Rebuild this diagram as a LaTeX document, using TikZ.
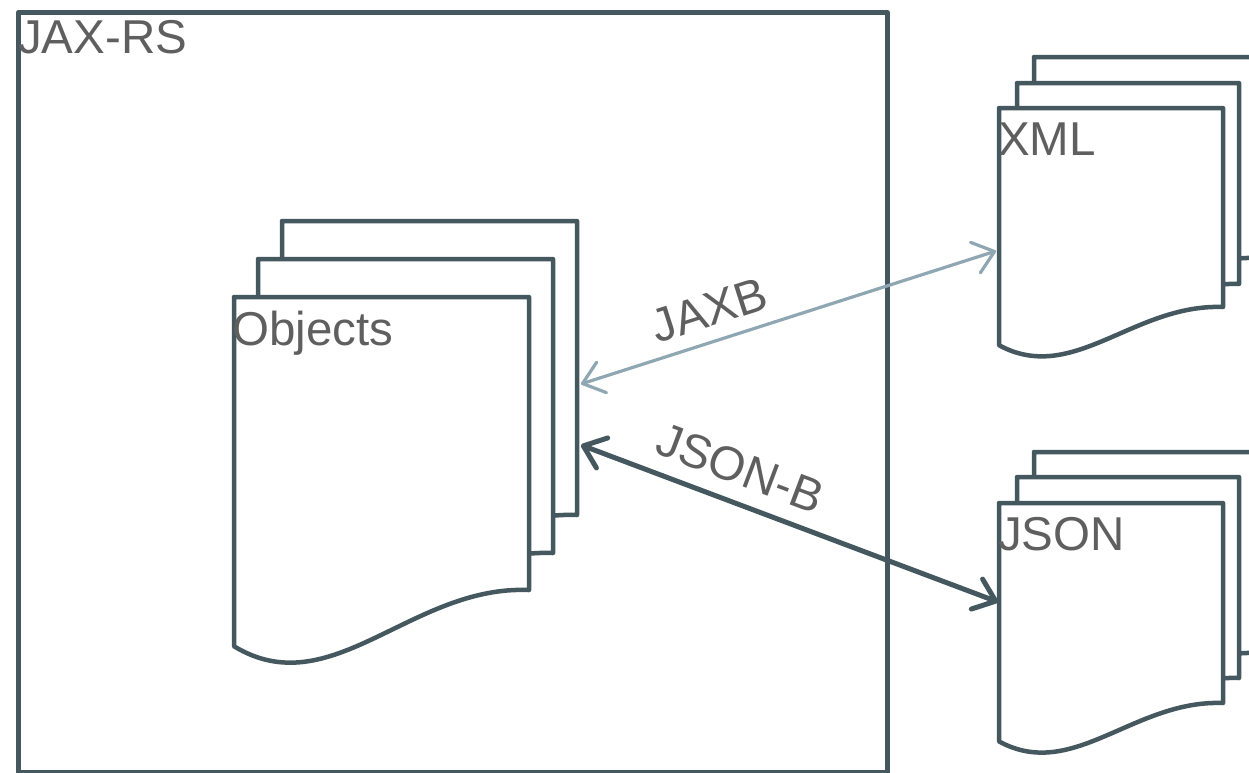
\documentclass[tikz,border=0pt]{standalone}
\usepackage{fontspec}
\setmainfont{Liberation Sans}
\usetikzlibrary{arrows.meta}
\definecolor{edge}{HTML}{46585F}
\definecolor{pale}{HTML}{8FA7B3}
\definecolor{ink}{HTML}{5F5F5F}
\tikzset{
  sheet/.style={draw=edge, line width=4.5pt, fill=white, line join=round},
  frame/.style={draw=edge, line width=4.5pt, line join=round, inner sep=0pt,
    anchor=north west},
  caption/.style={text=ink, font=\fontsize{47.5}{52}\selectfont, inner sep=0pt},
  barb/.tip={Straight Barb[length=20pt,width=32pt,round]},
  conn/.style={barb-barb, line cap=round, line join=round},
  % one page of a stack; #1 = width, #2 = height of the right edge
  pics/leaf/.style 2 args={code={
    \draw[sheet] (0,0) -- (#1,0) -- (#1,#2)
      .. controls (0.6*#1,0.983*#2) and (0.33*#1,1.394*#2) .. (0,1.192*#2)
      -- cycle;
  }},
}
\begin{document}
\begin{tikzpicture}[x=1pt,y=-1pt]
  \clip (0,0) rectangle (1249,772);
  \fill[white] (0,0) rectangle (1249,772);

  % container
  \node[frame, minimum width=869pt, minimum height=760pt] (jaxrs) at (16,10) {};
  \node[caption, anchor=base west] (jaxrslabel) at (18,53) {JAX-RS};

  % Java objects
  \pic at (282,221) {leaf={295}{294}};
  \pic at (258,259) {leaf={295}{294}};
  \pic at (234,297) {leaf={295}{293}};
  \node[caption, anchor=base west] (objects) at (232,345) {Objects};

  % XML documents
  \pic at (1034,57) {leaf={223}{201}};
  \pic at (1017,83) {leaf={222}{201}};
  \pic at (999,108) {leaf={224}{199}};
  \node[caption, anchor=base west] (xml) at (998,155) {XML};

  % JSON documents
  \pic at (1034,452) {leaf={223}{201}};
  \pic at (1017,477) {leaf={222}{201}};
  \pic at (999,503) {leaf={224}{200}};
  \node[caption, anchor=base west] (json) at (998,550) {JSON};

  % binding end points
  \coordinate (objXml)  at (581,384);
  \coordinate (xmlIn)   at (996,251);
  \coordinate (objJson) at (581,445);
  \coordinate (jsonIn)  at (998,602);

  \draw[conn, pale, line width=3.2pt] (objXml) -- (xmlIn)
    node[caption, pos=0.332, sloped, above=13pt] (jaxb) {JAXB};
  \draw[conn, edge, line width=5pt] (objJson) -- (jsonIn)
    node[caption, pos=0.353, sloped, above=15pt] (jsonb) {JSON-B};
\end{tikzpicture}
\end{document}
